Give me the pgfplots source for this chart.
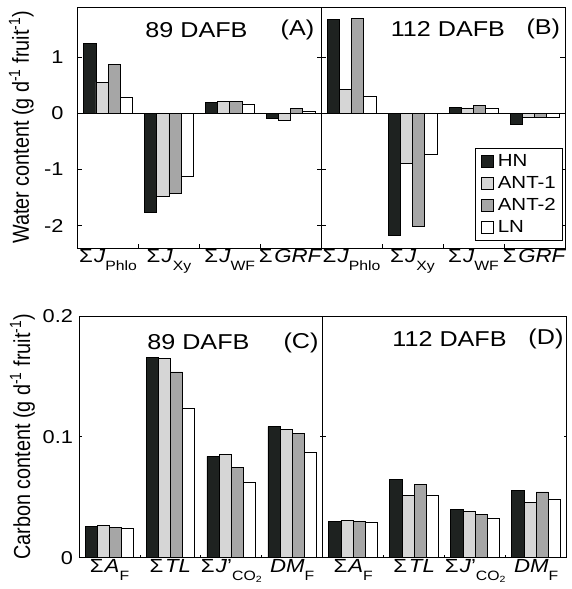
\documentclass[border=0pt]{standalone}
\usepackage{graphicx}
\usepackage{pgfplots}
\pgfplotsset{compat=1.18}
\usepackage{fontspec}
\setmainfont{Liberation Sans}
\newcommand{\sub}[1]{\raisebox{-0.8ex}{\fontsize{13.5}{13.5}\selectfont #1}}
\newcommand{\W}[1]{\scalebox{1.17}[1]{#1}}
\definecolor{hn}{HTML}{1E2220}
\definecolor{anta}{HTML}{D6D6D6}
\definecolor{antb}{HTML}{A6A6A6}
\tikzset{ptitle/.style={font=\fontsize{21.5}{24}\selectfont, xscale=1.17}}
\pgfplotsset{
  panel/.style={
    scale only axis,
    anchor=south west,
    ybar=0pt, bar width=0.2,
    xmin=-0.5, xmax=3.5,
    xtick={0,1,2,3},
    minor xtick={0.5,1.5,2.5},
    xtick pos=left,
    tick align=inside,
    major tick length=4.5pt,
    minor tick length=4pt,
    axis line style={line width=0.9pt},
    tick style={black, line width=0.8pt},
    major x tick style={draw=none},
    yticklabel style={font=\fontsize{18.6}{20}\selectfont, inner sep=0pt, xscale=1.17},
    xticklabel style={font=\fontsize{19}{20}\selectfont, inner sep=0pt, yshift=-1.5pt, xscale=1.17},
    every axis y label/.style={at={(axis description cs:-0.232,0.5)}, rotate=90, anchor=center, yscale=1.17, font=\fontsize{19.8}{21}\selectfont},
    every axis plot/.append style={draw=black, line width=0.7pt},
    legend image code/.code={\draw[#1, draw=black, line width=0.8pt] (0pt,-6pt) rectangle (12pt,6pt); \path (15pt,0pt);},
  },
  toprow/.style={
    ymin=-2.4, ymax=1.9,
    ytick={-2,-1,0,1},
    xticklabels={{Σ\kern1pt\textit{J}\sub{Phlo}},{Σ\kern1pt\textit{J}\sub{Xy}},{Σ\kern1pt\textit{J}\sub{WF}},{Σ\kern1.5pt\textit{GRF}}},
    yticklabel style={xshift=-12pt},
  },
  botrow/.style={
    ymin=0, ymax=0.2,
    ytick={0,0.1,0.2},
    major tick length=3pt,
    minor tick length=2.5pt,
    xticklabels={{Σ\kern1pt\textit{A}\sub{F}},{Σ\kern1.5pt\textit{TL}},{Σ\kern1pt\textit{J}'\sub{CO\raisebox{-0.3ex}{\fontsize{9}{9}\selectfont 2}}},{\textit{DM}\sub{F}}},
    yticklabel style={xshift=-5pt},
  },
}
\begin{document}
\begin{tikzpicture}
\path[use as bounding box] (0,0) rectangle (571pt,-589pt);
% ---------- (A)
\begin{axis}[panel, toprow, at={(77.7pt,-248pt)}, width=243.3pt, height=241pt,
  yticklabels={-2,-1,0,1},
  ylabel={Water content (g d\textsuperscript{-1} fruit\textsuperscript{-1})}]
\addplot[fill=hn]   coordinates {(0,1.25) (1,-1.76) (2,0.20) (3,-0.08)};
\addplot[fill=anta] coordinates {(0,0.56) (1,-1.47) (2,0.21) (3,-0.12)};
\addplot[fill=antb] coordinates {(0,0.88) (1,-1.43) (2,0.21) (3,0.09)};
\addplot[fill=white] coordinates {(0,0.28) (1,-1.12) (2,0.16) (3,0.03)};
\draw[line width=0.9pt] (axis cs:-0.5,0) -- (axis cs:3.5,0);
\node[ptitle] at (rel axis cs:0.488,0.905) {89 DAFB};
\node[ptitle] at (rel axis cs:0.903,0.905) {(A)};
\end{axis}
% ---------- (B)
\begin{axis}[panel, toprow, at={(321pt,-248pt)}, width=244pt, height=241pt,
  yticklabels={,,,},
  legend style={at={(0.993,0.03)}, anchor=south east, draw=black, line width=0.9pt,
    font=\fontsize{17.5}{19}\selectfont, inner xsep=6pt, inner ysep=5pt, row sep=6.5pt,
    legend cell align=left, nodes={inner sep=1pt}}]
\addplot[fill=hn]   coordinates {(0,1.68) (1,-2.18) (2,0.11) (3,-0.19)};
\addlegendentry{\W{HN}}
\addplot[fill=anta] coordinates {(0,0.43) (1,-0.89) (2,0.10) (3,-0.07)};
\addlegendentry{\W{ANT-1}}
\addplot[fill=antb] coordinates {(0,1.70) (1,-2.01) (2,0.14) (3,-0.07)};
\addlegendentry{\W{ANT-2}}
\addplot[fill=white] coordinates {(0,0.31) (1,-0.73) (2,0.10) (3,-0.07)};
\addlegendentry{\W{LN}}
\draw[line width=0.9pt] (axis cs:-0.5,0) -- (axis cs:3.5,0);
\node[ptitle] at (rel axis cs:0.52,0.91) {112 DAFB};
\node[ptitle] at (rel axis cs:0.911,0.91) {(B)};
\end{axis}
% ---------- (C)
\begin{axis}[panel, botrow, at={(79pt,-557.7pt)}, width=243.7pt, height=241.7pt,
  yticklabels={0,0.1,0.2},
  ylabel={Carbon content (g d\textsuperscript{-1} fruit\textsuperscript{-1})}]
\addplot[fill=hn]   coordinates {(0,0.0262) (1,0.1655) (2,0.0839) (3,0.1084)};
\addplot[fill=anta] coordinates {(0,0.0270) (1,0.1647) (2,0.0858) (3,0.1060)};
\addplot[fill=antb] coordinates {(0,0.0250) (1,0.1537) (2,0.0748) (3,0.1030)};
\addplot[fill=white] coordinates {(0,0.0240) (1,0.1240) (2,0.0620) (3,0.0869)};
\node[ptitle] at (rel axis cs:0.49,0.89) {89 DAFB};
\node[ptitle] at (rel axis cs:0.911,0.89) {(C)};
\end{axis}
% ---------- (D)
\begin{axis}[panel, botrow, at={(322.7pt,-557.7pt)}, width=244pt, height=241.7pt,
  yticklabels={,,}]
\addplot[fill=hn]   coordinates {(0,0.0300) (1,0.0650) (2,0.0403) (3,0.0558)};
\addplot[fill=anta] coordinates {(0,0.0310) (1,0.0516) (2,0.0386) (3,0.0455)};
\addplot[fill=antb] coordinates {(0,0.0300) (1,0.0607) (2,0.0359) (3,0.0544)};
\addplot[fill=white] coordinates {(0,0.0290) (1,0.0520) (2,0.0323) (3,0.0486)};
\node[ptitle] at (rel axis cs:0.52,0.905) {112 DAFB};
\node[ptitle] at (rel axis cs:0.915,0.905) {(D)};
\end{axis}
\end{tikzpicture}
\end{document}
